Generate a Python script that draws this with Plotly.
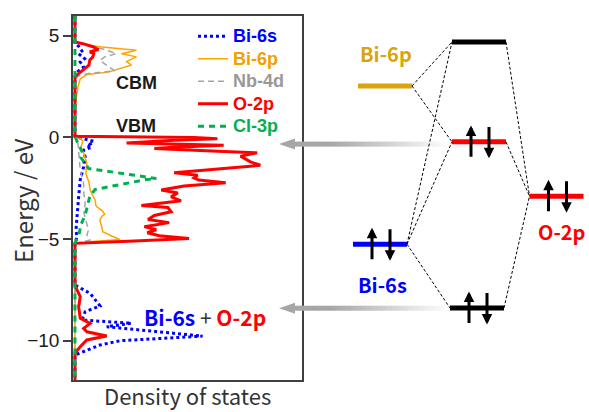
import plotly.graph_objects as go

# ---------------- DOS data (energy in eV, DOS in arbitrary units) ----------------
bi6s_E = [5.96, 4.65, 4.45, 4.24, 4.10, 3.86, 3.70, 3.45, 3.20, 2.98, 0.05, -0.05, -0.20, -0.31, -0.39,
          -0.48, -0.64, -0.97, -1.46, -2.10, -2.93, -3.90, -4.57, -4.90, -5.23, -7.27, -7.68, -8.30,
          -8.58, -8.99, -9.15, -9.32, -9.78, -10.01, -10.22, -10.71, -11.94]
bi6s_dos = [0, 0, 4, 7, 3.7, 9.7, 5.3, 8.7, 2, 0, 0, 6, 18.7, 17, 12,
            17, 8.7, 10.3, 8.7, 5.3, 3.7, 2, 1, 2, 0, 0, 15.3, 25.3,
            10.3, 7, 57, 32, 128.7, 45.3, 25.3, 0, 0]

bi6p_E = [5.96, 4.70, 4.60, 4.45, 4.28, 4.10, 3.95, 3.72, 3.55, 3.37, 3.20, 3.08, 2.87, 2.47, 1.82,
          1.50, 0.05, -0.05, -0.20, -0.31, -0.50, -0.80, -1.29, -1.79, -2.20, -2.60, -2.77, -3.10,
          -3.34, -3.42, -3.60, -3.78, -3.90, -4.08, -4.40, -4.65, -4.86, -4.95, -5.03, -5.12, -5.23, -11.94]
bi6p_dos = [0, 0, 5, 25, 62, 47, 62, 52, 57, 45.3, 33.7, 12, 5.3, 3, 1,
            0, 0, 5, 8, 7, 6, 9, 12, 11, 14, 15.3, 17, 20.3,
            21, 22, 27, 30, 27, 25, 27, 28, 37, 42, 45.3, 20, 0, 0]

nb4d_E = [5.96, 4.70, 4.60, 4.45, 4.35, 4.11, 3.95, 3.78, 3.55, 3.35, 3.26, 3.13, 3.00, 2.80, 0.05,
          -0.30, -0.80, -1.62, -2.28, -2.80, -3.26, -3.70, -4.10, -4.57, -4.80, -5.06, -5.23, -11.94]
nb4d_dos = [0, 0, 8, 20, 27, 42, 30, 25, 32, 38, 40, 13.7, 3, 0, 0,
            3, 4, 5.3, 8.7, 9, 10.3, 9, 11, 13.7, 12, 15.3, 0, 0]

o2p_E = [5.96, 4.68, 4.60, 4.45, 4.31, 4.20, 4.11, 3.95, 3.80, 3.54, 3.30, 3.13, 2.98, 0.05, 0.02,
         -0.02, -0.08, -0.15, -0.28, -0.39, -0.50, -0.56, -0.70, -0.77, -0.93, -1.21, -1.38, -1.55,
         -1.75, -1.87, -2.00, -2.11, -2.24, -2.40, -2.60, -2.74, -2.93, -3.13, -3.36, -3.46, -3.67,
         -3.85, -4.05, -4.20, -4.40, -4.55, -4.70, -4.85, -4.98, -5.10, -5.22, -7.30, -7.84, -8.34,
         -8.90, -9.16, -9.40, -9.57, -9.78, -9.97, -10.30, -10.63, -11.94]
o2p_dos = [0, 0, 8, 18, 23.7, 15, 19, 18, 15, 14, 8, 3.7, 0, 0, 40,
           120, 143.7, 100, 52, 150, 100, 80, 150, 183.7, 167, 177, 187, 150,
           100, 123.7, 120, 125, 152, 110, 87, 103.7, 97, 107, 67, 93.7, 97,
           80, 73.7, 95, 70, 82, 73, 85, 115, 60, 0, 0, 5.3, 3.7,
           5.3, 15.3, 8.7, 12, 32, 12, 5.3, 0, 0]

cl3p_E = [5.96, 0.05, -0.20, -0.56, -0.80, -1.00, -1.54, -2.03, -2.10, -2.57, -2.90, -3.30, -3.83,
          -4.30, -4.80, -5.10, -5.23, -11.94]
cl3p_dos = [0, 0, 2, 5.3, 8, 6, 13.7, 82, 70, 20.3, 15, 13, 10.3,
            6, 4, 1, 0, 0]

series_names = ["Bi-6s", "Bi-6p", "Nb-4d", "O-2p", "Cl-3p"]
series_E = [bi6s_E, bi6p_E, nb4d_E, o2p_E, cl3p_E]
series_dos = [bi6s_dos, bi6p_dos, nb4d_dos, o2p_dos, cl3p_dos]
series_colors = ["#0000FF", "#FFA500", "#A6A6A6", "#FF0000", "#00B050"]
legend_text_colors = ["#0000FF", "#F0A000", "#999999", "#FF0000", "#00B050"]
series_dash = ["dot", "solid", "6px,4px", "solid", "6px,5px"]
series_width = [3, 1.5, 1.5, 3, 3]

y_tickvals = [-10, -5, 0, 5]
y_ticktext = ["\u221210", "\u22125", "0", "5"]

# ---------------- Orbital level diagram (schematic) ----------------
level_names = ["antibonding", "Bi-6p", "VB (O-2p)", "O-2p", "Bi-6s", "bonding"]
level_E = [4.68, 2.52, -0.23, -2.90, -5.26, -8.40]
level_x = [479, 385, 479, 556.5, 380, 477]
level_color = ["#000000", "#DAA50A", "#FF0000", "#FF0000", "#0000FF", "#000000"]
level_electrons = [0, 0, 2, 2, 2, 2]
LEVEL_HALF = 27

# connections: (from level, side, to level, side)
connections = [(1, "R", 0, "L"), (1, "R", 2, "L"), (4, "R", 0, "L"), (4, "R", 2, "L"),
               (4, "R", 5, "L"), (0, "R", 3, "L"), (2, "R", 3, "L"), (5, "R", 3, "L")]

diagram_labels = ["Bi-6p", "Bi-6s", "O-2p"]
diagram_label_x = [386, 382, 561]
diagram_label_E = [4.13, -7.22, -4.65]
diagram_label_colors = ["#DAA50A", "#0000FF", "#FF0000"]

# projection arrows (from diagram into DOS panel)
proj_E = [-0.34, -8.41]
proj_tail_x = 450
proj_tip_x = 279

W, H = 589, 412
ML, MR, MT, MB = 73, 0, 16, 32
plot_w = W - ML - MR
plot_h = H - MT - MB
dos_right_px = 302
dos_domain = (dos_right_px - ML) / plot_w

fig = go.Figure()

for name, E, d, c, lc, dash, w in zip(series_names, series_E, series_dos, series_colors,
                                      legend_text_colors, series_dash, series_width):
    fig.add_trace(go.Scatter(
        x=d, y=E, mode="lines",
        name=f"<b><span style='color:{lc};font-size:18px'>{name}</span></b>",
        line=dict(color=c, dash=dash, width=w),
        xaxis="x", yaxis="y", hoverinfo="skip"))

# level bars
for i in range(len(level_names)):
    fig.add_trace(go.Scatter(
        x=[level_x[i] - LEVEL_HALF, level_x[i] + LEVEL_HALF], y=[level_E[i], level_E[i]],
        mode="lines", line=dict(color=level_color[i], width=5),
        xaxis="x2", yaxis="y", showlegend=False, hoverinfo="skip"))

# dashed connections
for a, sa, b, sb in connections:
    xa = level_x[a] + (LEVEL_HALF if sa == "R" else -LEVEL_HALF)
    xb = level_x[b] + (LEVEL_HALF if sb == "R" else -LEVEL_HALF)
    fig.add_trace(go.Scatter(
        x=[xa, xb], y=[level_E[a], level_E[b]], mode="lines",
        line=dict(color="#000000", width=1, dash="3px,2px"),
        xaxis="x2", yaxis="y", showlegend=False, hoverinfo="skip"))

annotations = []
# electron arrows
SPIN_H = 0.81
for i in range(len(level_names)):
    if level_electrons[i] == 2:
        annotations.append(dict(x=level_x[i] - 8, y=level_E[i] + SPIN_H, ax=level_x[i] - 8,
                                ay=level_E[i] - SPIN_H, xref="x2", yref="y", axref="x2", ayref="y",
                                text="", showarrow=True, arrowhead=2, arrowsize=0.7, arrowwidth=3,
                                arrowcolor="#000000", standoff=0, startstandoff=0))
        annotations.append(dict(x=level_x[i] + 10, y=level_E[i] - SPIN_H, ax=level_x[i] + 10,
                                ay=level_E[i] + SPIN_H, xref="x2", yref="y", axref="x2", ayref="y",
                                text="", showarrow=True, arrowhead=2, arrowsize=0.7, arrowwidth=3,
                                arrowcolor="#000000", standoff=0, startstandoff=0))

for t, x, e, c in zip(diagram_labels, diagram_label_x, diagram_label_E, diagram_label_colors):
    annotations.append(dict(x=x, y=e, xref="x2", yref="y", text=f"<b>{t}</b>", showarrow=False,
                            font=dict(family="Noto Sans CJK JP", size=20, color=c)))

annotations.append(dict(x=62, y=2.67, xref="x", yref="y", text="<b>CBM</b>", showarrow=False,
                        font=dict(family="Liberation Sans", size=18, color="#1a1a1a")))
annotations.append(dict(x=62, y=0.54, xref="x", yref="y", text="<b>VBM</b>", showarrow=False,
                        font=dict(family="Liberation Sans", size=18, color="#1a1a1a")))
annotations.append(dict(x=131, y=-8.83, xref="x", yref="y",
                        text="<b><span style='color:#0000FF'>Bi-6s</span></b>"
                             "<span style='color:#333333'> + </span>"
                             "<b><span style='color:#FF0000'>O-2p</span></b>",
                        showarrow=False, font=dict(family="Noto Sans CJK JP", size=21)))
# y-axis title
annotations.append(dict(x=(22 - ML) / plot_w, y=1 - (201 - MT) / plot_h, xref="paper", yref="paper",
                        text="Energy / eV", textangle=-90, showarrow=False,
                        xanchor="center", yanchor="middle",
                        font=dict(family="Noto Sans CJK JP", size=24, color="#333333")))
# x-axis title
annotations.append(dict(x=dos_domain / 2, y=-(395 - (H - MB)) / plot_h, xref="paper", yref="paper",
                        text="Density of states", showarrow=False, borderpad=0,
                        xanchor="center", yanchor="middle",
                        font=dict(family="Noto Sans CJK JP", size=22, color="#333333")))

shapes = []
# gradient shafts of projection arrows
n_seg = 30
shaft_start = proj_tip_x + 14
for e in proj_E:
    for k in range(n_seg):
        x0 = shaft_start + (proj_tail_x - shaft_start) * k / n_seg
        x1 = shaft_start + (proj_tail_x - shaft_start) * (k + 1) / n_seg
        xm = (x0 + x1) / 2
        f = 0.0 if xm < 330 else min(1.0, (xm - 330) / (proj_tail_x - 330))
        g = int(round(166 + (255 - 166) * f))
        shapes.append(dict(type="line", xref="x2", yref="y", x0=x0, x1=x1 + 0.5, y0=e, y1=e,
                           line=dict(color=f"rgb({g},{g},{g})", width=5), layer="below"))
    shapes.append(dict(type="path", xref="x2", yref="y",
                       path=f"M {proj_tip_x},{e} L {proj_tip_x + 16},{e + 0.27} L {proj_tip_x + 16},{e - 0.27} Z",
                       fillcolor="rgb(166,166,166)", line=dict(width=0), layer="below"))

fig.update_layout(
    width=W, height=H,
    margin=dict(l=ML, r=MR, t=MT, b=MB, autoexpand=False),
    paper_bgcolor="white", plot_bgcolor="rgba(0,0,0,0)",
    showlegend=True,
    legend=dict(x=(193 - ML) / plot_w, y=1 - (20 - MT) / plot_h, xanchor="left", yanchor="top",
                bgcolor="rgba(0,0,0,0)", font=dict(family="Liberation Sans", size=15),
                itemclick=False),
    xaxis=dict(domain=[0, dos_domain], range=[-2, 229], showticklabels=False, ticks="",
               showgrid=False, zeroline=False, showline=True, mirror=True, linecolor="#404040",
               linewidth=1.5, automargin=False),
    xaxis2=dict(domain=[0, 1], range=[ML, W], anchor="y", visible=False, showgrid=False,
                automargin=False),
    yaxis=dict(range=[-11.94, 5.96], tickvals=y_tickvals, ticktext=y_ticktext, ticks="outside",
               ticklen=8, tickwidth=1.5, tickcolor="#404040", showgrid=False, zeroline=False,
               showline=True, mirror=True, linecolor="#404040", linewidth=1.5, anchor="x",
               automargin=False,
               tickfont=dict(family="Liberation Sans", size=19, color="#1a1a1a")),
    annotations=annotations,
    shapes=shapes,
)

fig.write_html("out.html", config={"displayModeBar": False},
               post_script="document.body.style.margin='0px';")
